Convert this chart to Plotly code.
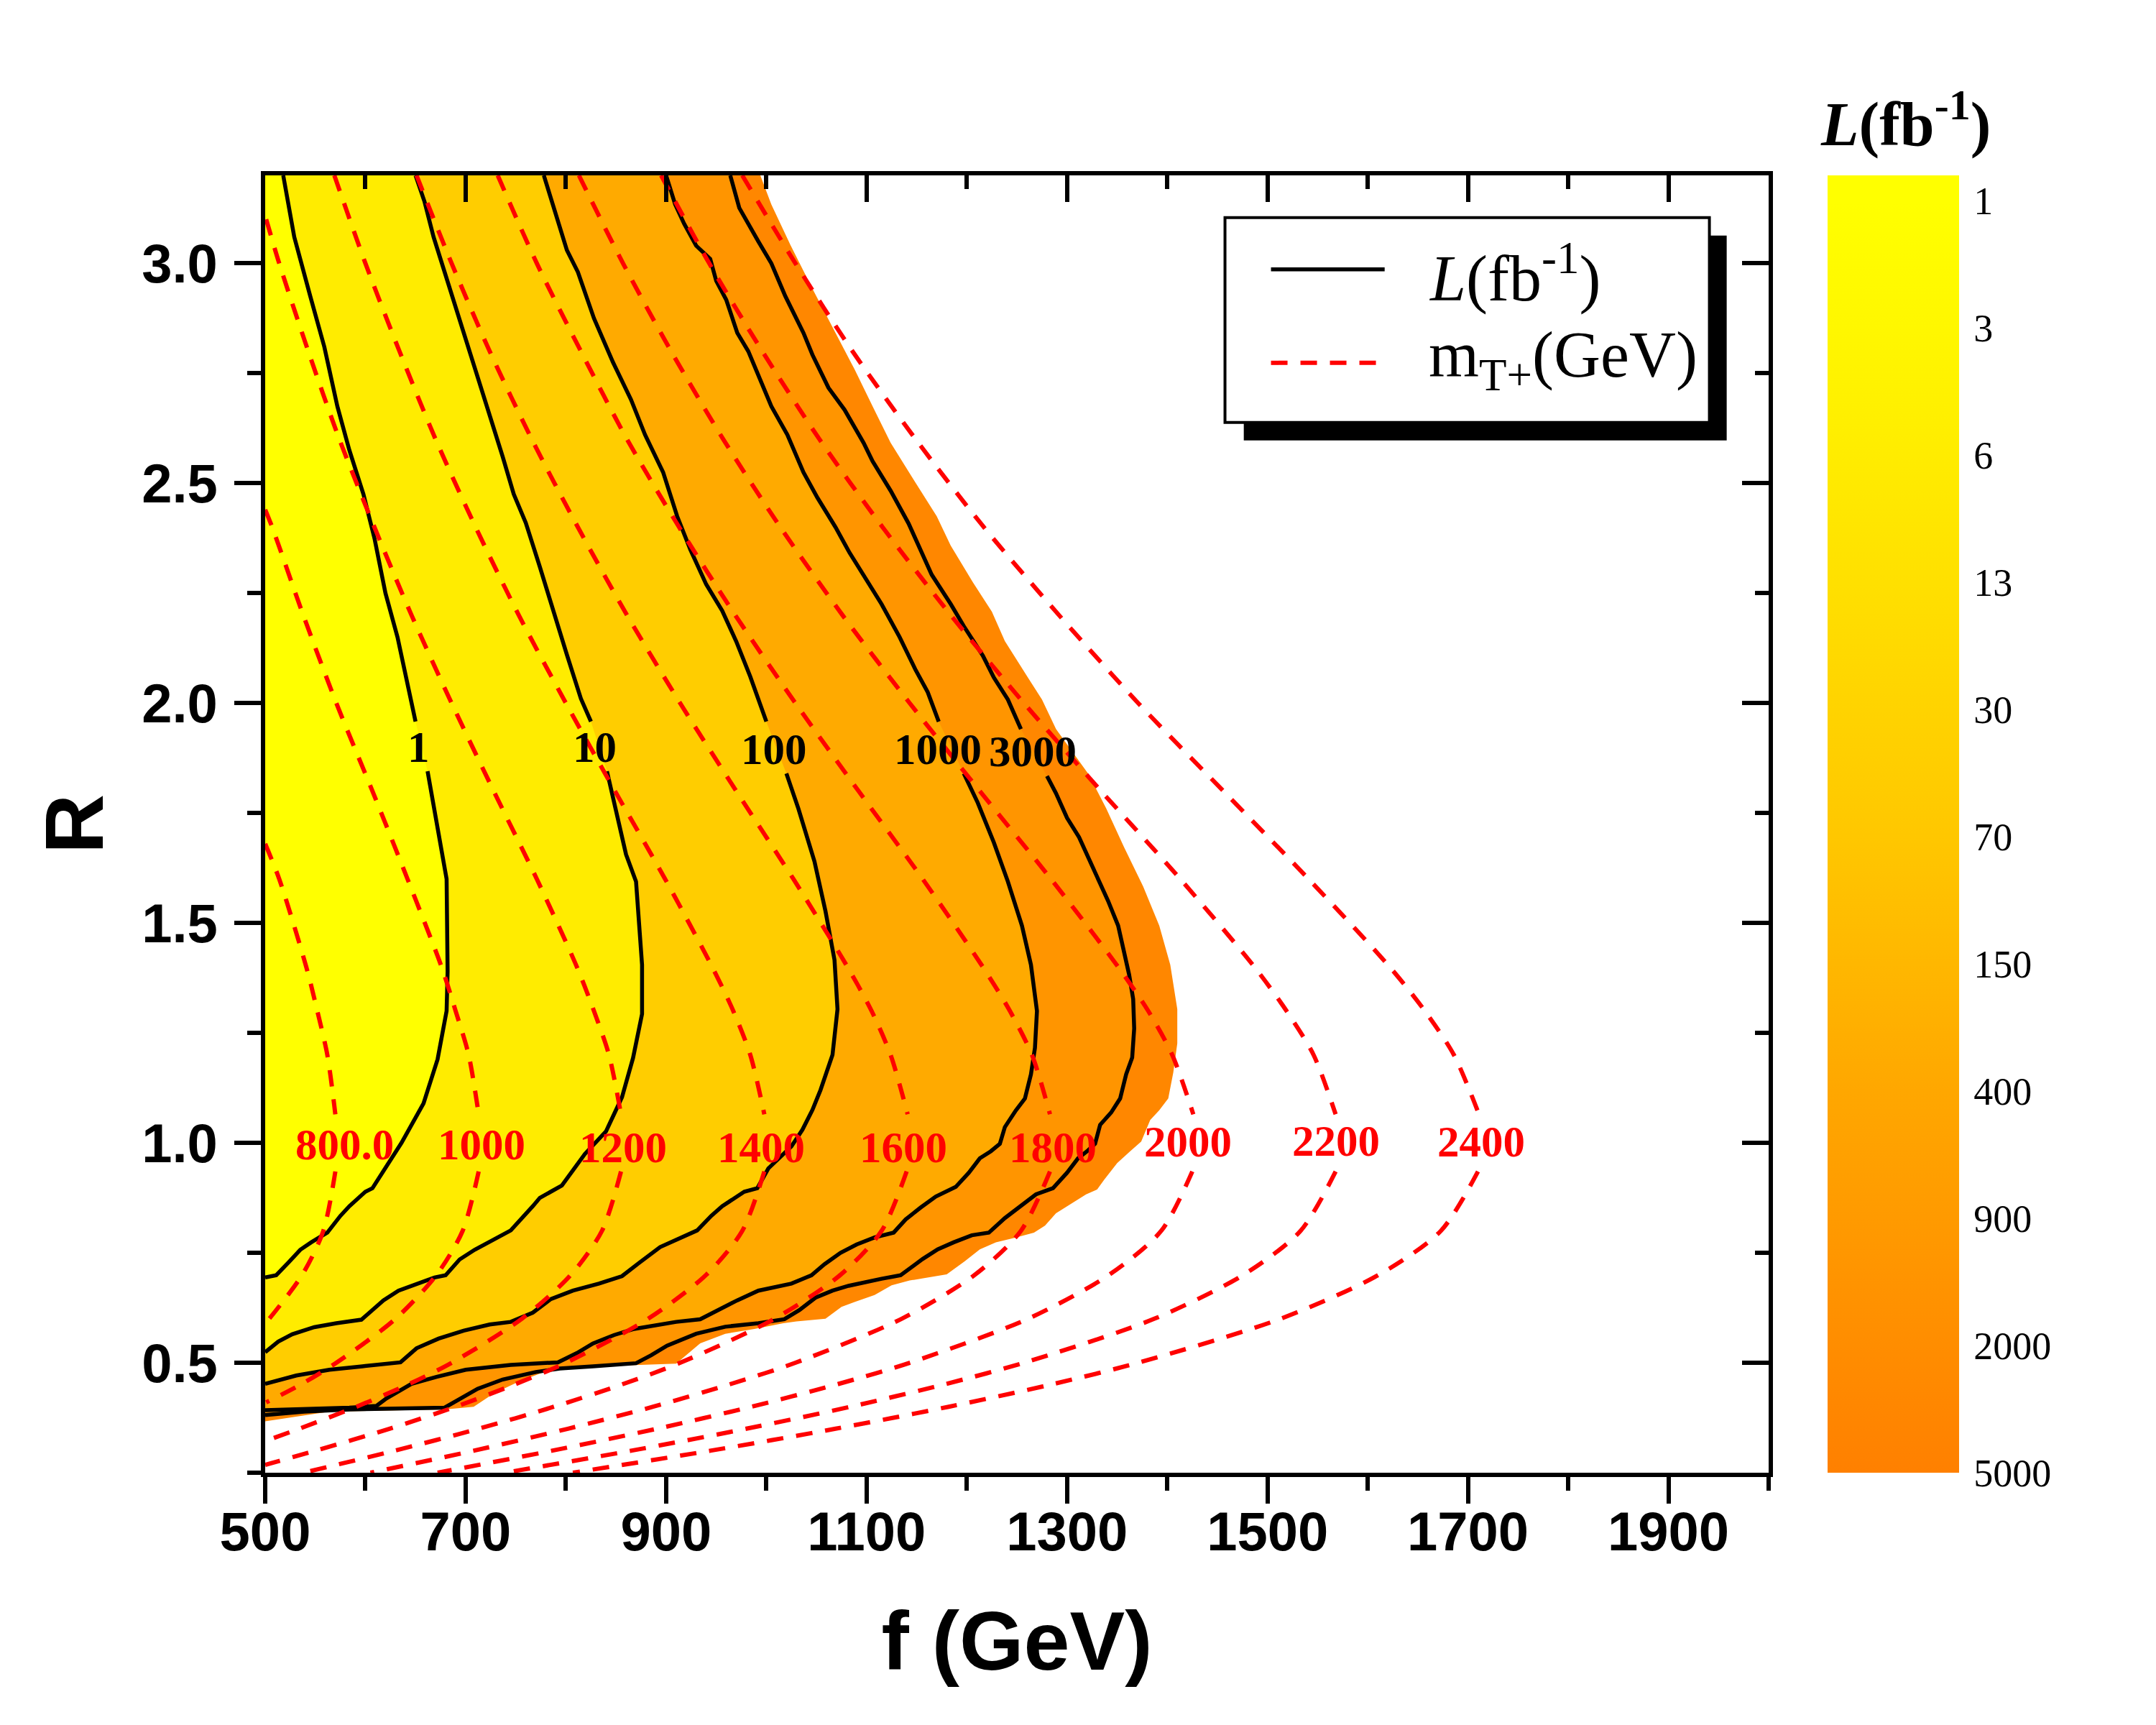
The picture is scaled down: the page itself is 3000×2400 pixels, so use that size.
import plotly.graph_objects as go

# axis limits of the plane (f in GeV, R dimensionless)
F_MIN, F_MAX = 500, 2000
R_MIN, R_MAX = 0.25, 3.2

# luminosity contours L (fb^-1): from the top edge to the left edge
l1_f = [518, 529, 545, 559, 572, 584, 598, 609, 620, 632, 650, 662, 671, 681, 682, 681, 672, 658, 636, 607,
        600, 584, 575, 562, 546, 535, 524, 511, 500]
l1_r = [3.20, 3.06, 2.925, 2.81, 2.675, 2.575, 2.475, 2.375, 2.25, 2.15, 1.958, 1.845, 1.728, 1.60, 1.39, 1.30,
        1.19, 1.09, 1.00, 0.897, 0.889, 0.856, 0.834, 0.796, 0.774, 0.757, 0.730, 0.699, 0.694]

l10_f = [650, 659, 668, 682, 696, 710, 723, 737, 748, 760, 774, 787, 801, 815, 825, 841, 851, 860, 870, 873,
         876, 876, 867, 856, 840, 819, 796, 785, 774, 767, 756, 745, 727, 709, 694, 680, 669, 651, 633, 618,
         607, 596, 571, 549, 527, 513, 500]
l10_r = [3.20, 3.14, 3.06, 2.96, 2.86, 2.76, 2.66, 2.56, 2.475, 2.41, 2.31, 2.21, 2.11, 2.01, 1.958, 1.845, 1.75,
         1.656, 1.594, 1.505, 1.405, 1.293, 1.193, 1.104, 1.026, 0.975, 0.903, 0.889, 0.875, 0.856, 0.829, 0.801,
         0.779, 0.757, 0.735, 0.699, 0.694, 0.680, 0.664, 0.642, 0.620, 0.598, 0.590, 0.581, 0.565, 0.548, 0.524]

l100_f = [778, 790, 801, 812, 828, 847, 865, 879, 897, 911, 924, 940, 956, 970, 984, 1000, 1020, 1032, 1048, 1059,
          1068, 1071, 1066, 1060, 1054, 1046, 1036, 1025, 1002, 991, 978, 956, 945, 931, 912, 894, 873, 856, 833,
          807, 785, 767, 745, 724, 698, 673, 651, 635, 597, 564, 531, 500]
l100_r = [3.20, 3.11, 3.03, 2.98, 2.875, 2.775, 2.69, 2.61, 2.525, 2.425, 2.35, 2.27, 2.21, 2.14, 2.06, 1.958, 1.84,
          1.76, 1.64, 1.527, 1.416, 1.304, 1.20, 1.16, 1.12, 1.075, 1.03, 0.992, 0.942, 0.897, 0.889, 0.856, 0.834,
          0.801, 0.782, 0.763, 0.727, 0.697, 0.680, 0.664, 0.645, 0.614, 0.593, 0.587, 0.573, 0.555, 0.533, 0.501,
          0.492, 0.484, 0.471, 0.452]

l1000_f = [900, 909, 918, 930, 944, 950, 960, 971, 982, 994, 1005, 1021, 1037, 1051, 1069, 1083, 1097, 1115, 1133,
           1149, 1161, 1172, 1197, 1211, 1227, 1241, 1255, 1264, 1270, 1268, 1264, 1258, 1249, 1238, 1233, 1224,
           1213, 1202, 1189, 1169, 1154, 1139, 1127, 1108, 1090, 1074, 1058, 1045, 1025, 992, 971, 951, 934, 910,
           868, 848, 827, 811, 792, 745, 700, 671, 646, 621, 611, 584, 540, 500]
l1000_r = [3.20, 3.134, 3.09, 3.04, 3.01, 2.96, 2.917, 2.842, 2.80, 2.734, 2.675, 2.61, 2.525, 2.467, 2.40, 2.342,
           2.29, 2.225, 2.15, 2.075, 2.025, 1.958, 1.84, 1.773, 1.683, 1.594, 1.494, 1.405, 1.30, 1.216, 1.156,
           1.101, 1.074, 1.036, 0.998, 0.981, 0.965, 0.932, 0.900, 0.878, 0.853, 0.826, 0.796, 0.785, 0.769, 0.750,
           0.724, 0.699, 0.680, 0.664, 0.642, 0.620, 0.599, 0.593, 0.577, 0.563, 0.544, 0.522, 0.501, 0.495, 0.484,
           0.468, 0.452, 0.419, 0.402, 0.398, 0.395, 0.392]

l3000_f = [964, 973, 992, 1005, 1019, 1037, 1046, 1062, 1078, 1097, 1106, 1124, 1142, 1152, 1165, 1184, 1197, 1216,
           1227, 1241, 1254, 1280, 1289, 1300, 1312, 1321, 1330, 1341, 1351, 1357, 1362, 1366, 1367, 1365, 1359,
           1353, 1344, 1333, 1328, 1320, 1311, 1300, 1286, 1269, 1253, 1238, 1222, 1205, 1187, 1171, 1156, 1134,
           1115, 1099, 1082, 1066, 1049, 1033, 1018, 992, 959, 930, 901, 885, 870, 827, 794, 770, 737, 712, 691,
           679, 584, 539, 500]
l3000_r = [3.20, 3.126, 3.05, 3.0, 2.925, 2.842, 2.792, 2.717, 2.667, 2.592, 2.55, 2.483, 2.408, 2.358, 2.292,
           2.225, 2.175, 2.108, 2.058, 2.008, 1.941, 1.834, 1.795, 1.739, 1.695, 1.65, 1.605, 1.55, 1.494, 1.438,
           1.382, 1.327, 1.26, 1.194, 1.156, 1.101, 1.069, 1.041, 0.998, 0.981, 0.965, 0.932, 0.897, 0.883, 0.856,
           0.829, 0.796, 0.790, 0.774, 0.758, 0.736, 0.699, 0.691, 0.684, 0.675, 0.664, 0.648, 0.620, 0.599, 0.590,
           0.582, 0.566, 0.539, 0.517, 0.499, 0.492, 0.487, 0.479, 0.462, 0.441, 0.413, 0.398, 0.394, 0.389, 0.381]

# outer edge of the coloured region (L = 5000)
edge_f = [994, 1005, 1024, 1046, 1069, 1088, 1106, 1124, 1147, 1170, 1184, 1206, 1225, 1238, 1261, 1275, 1289, 1321,
          1339, 1357, 1376, 1392, 1403, 1410, 1410, 1406, 1401, 1392, 1383, 1374, 1363, 1350, 1337, 1330, 1319, 1300,
          1289, 1278, 1267, 1249, 1229, 1213, 1198, 1180, 1165, 1143, 1125, 1108, 1088, 1075, 1059, 1030, 1017, 988,
          959, 934, 910, 807, 778, 753, 728, 708, 679, 564, 500]
edge_r = [3.20, 3.134, 3.042, 2.942, 2.842, 2.759, 2.675, 2.592, 2.508, 2.425, 2.358, 2.275, 2.208, 2.141, 2.058,
          2.008, 1.941, 1.84, 1.761, 1.672, 1.583, 1.494, 1.405, 1.304, 1.226, 1.16, 1.101, 1.074, 1.052, 1.003,
          0.981, 0.954, 0.916, 0.894, 0.883, 0.856, 0.840, 0.812, 0.796, 0.785, 0.774, 0.758, 0.731, 0.701, 0.695,
          0.687, 0.676, 0.654, 0.638, 0.627, 0.600, 0.594, 0.590, 0.577, 0.566, 0.544, 0.498, 0.490, 0.479, 0.457,
          0.430, 0.400, 0.394, 0.389, 0.367]

# m_T+ contours (GeV)
mt800_f = [500, 514, 541, 552, 562, 570, 570, 558, 537, 504, 500]
mt800_r = [1.68, 1.6, 1.4, 1.3, 1.2, 1.065, 0.935, 0.8, 0.7, 0.6, 0.59]
mt1000_f = [500, 507, 538, 571, 607, 642, 676, 690, 703, 713, 713, 697, 671, 630, 571, 535, 501]
mt1000_r = [2.44, 2.4, 2.2, 2.0, 1.8, 1.6, 1.4, 1.3, 1.2, 1.065, 0.935, 0.8, 0.7, 0.6, 0.5, 0.45, 0.41]
mt1200_f = [501, 514, 543, 574, 609, 646, 686, 728, 771, 811, 828, 843, 855, 855, 836, 805, 756, 686, 642, 591,
            534, 500]
mt1200_r = [3.1, 3.0, 2.8, 2.6, 2.4, 2.2, 2.0, 1.8, 1.6, 1.4, 1.3, 1.2, 1.065, 0.935, 0.8, 0.7, 0.6, 0.5, 0.45,
            0.4, 0.35, 0.322]
mt1400_f = [569, 600, 634, 670, 710, 753, 800, 849, 899, 946, 967, 984, 998, 998, 976, 940, 882, 800, 748, 690,
            624, 550, 500]
mt1400_r = [3.2, 3.0, 2.8, 2.6, 2.4, 2.2, 2.0, 1.8, 1.6, 1.4, 1.3, 1.2, 1.065, 0.935, 0.8, 0.7, 0.6, 0.5, 0.45,
            0.4, 0.35, 0.3, 0.268]
mt_r = [3.2, 3.0, 2.8, 2.6, 2.4, 2.2, 2.0, 1.8, 1.6, 1.4, 1.3, 1.2, 1.065, 0.935, 0.8, 0.7, 0.6, 0.5, 0.45,
        0.4, 0.35, 0.3, 0.25]
mt1600_f = [651, 686, 724, 766, 812, 861, 914, 970, 1027, 1081, 1105, 1124, 1141, 1140, 1115, 1074, 1008, 914,
            855, 788, 713, 629, 538]
mt1800_f = [732, 771, 815, 861, 913, 969, 1029, 1092, 1156, 1216, 1243, 1265, 1283, 1283, 1254, 1208, 1135, 1029,
            962, 887, 802, 708, 605]
mt2000_f = [813, 857, 905, 957, 1014, 1076, 1143, 1213, 1284, 1351, 1381, 1405, 1426, 1425, 1394, 1342, 1261, 1143,
            1069, 985, 891, 786, 672]
mt2200_f = [895, 943, 996, 1053, 1116, 1184, 1257, 1334, 1413, 1487, 1519, 1546, 1568, 1568, 1533, 1476, 1387, 1257,
            1176, 1084, 980, 865, 739]
mt2400_f = [976, 1029, 1086, 1149, 1217, 1292, 1371, 1456, 1541, 1622, 1657, 1686, 1711, 1710, 1673, 1611, 1513,
            1371, 1283, 1182, 1069, 944, 807]

# contour labels
l_label_text = ["1", "10", "100", "1000", "3000"]
l_label_f = [653, 829, 1008, 1171, 1266]
l_label_r = [1.90, 1.90, 1.895, 1.895, 1.89]
mt_label_text = ["800.0", "1000", "1200", "1400", "1600", "1800", "2000", "2200", "2400"]
mt_label_f = [579, 716, 857, 995, 1137, 1286, 1421, 1568, 1713]
mt_label_r = [0.996, 0.996, 0.99, 0.99, 0.99, 0.99, 1.002, 1.005, 1.002]

# colour bar
cb_labels = ["1", "3", "6", "13", "30", "70", "150", "400", "900", "2000", "5000"]
cb_colors = ["#FFFF00", "#FFF700", "#FFEC00", "#FFE000", "#FFD300", "#FFC700", "#FFB700", "#FFA700", "#FF9A00",
             "#FF8D00", "#FF8000"]

SERIF = "Liberation Serif, Times New Roman, serif"
SANS = "Liberation Sans, Arial, sans-serif"


def with_gap(fs, rs, cut):
    # leave a hole in the line where its label sits
    xs, ys = [], []
    for i, (f, r) in enumerate(zip(fs, rs)):
        if i and rs[i - 1] > cut >= r:
            xs.append(None)
            ys.append(None)
        xs.append(f)
        ys.append(r)
    return xs, ys


fig = go.Figure()

# coloured bands, painted from the outside in
bands = [(edge_f, edge_r, "#FF8700"), (l3000_f, l3000_r, "#FF9500"), (l1000_f, l1000_r, "#FFAA00"),
         (l100_f, l100_r, "#FFCD00"), (l10_f, l10_r, "#FFEC00"), (l1_f, l1_r, "#FFFF00")]
for f, r, c in bands:
    fig.add_trace(go.Scatter(x=[F_MIN] + f, y=[R_MAX] + r, mode="lines", fill="toself", fillcolor=c,
                             line=dict(width=0), hoverinfo="skip", showlegend=False))

for f, r in [(l1_f, l1_r), (l10_f, l10_r), (l100_f, l100_r), (l1000_f, l1000_r), (l3000_f, l3000_r)]:
    xs, ys = with_gap(f, r, 1.9)
    fig.add_trace(go.Scatter(x=xs, y=ys, mode="lines", line=dict(color="black", width=5.5),
                             hoverinfo="skip", showlegend=False))

mt_curves = [(mt800_f, mt800_r), (mt1000_f, mt1000_r), (mt1200_f, mt1200_r), (mt1400_f, mt1400_r),
             (mt1600_f, mt_r), (mt1800_f, mt_r), (mt2000_f, mt_r), (mt2200_f, mt_r), (mt2400_f, mt_r)]
for f, r in mt_curves:
    xs, ys = with_gap(f, r, 1.0)
    fig.add_trace(go.Scatter(x=xs, y=ys, mode="lines",
                             line=dict(color="#FF0000", width=6, dash="23px,18px", shape="spline",
                                       smoothing=0.8),
                             hoverinfo="skip", showlegend=False))

# colour bar carrier
n = len(cb_labels) - 1
top = n + 0.2
scale = [[0, cb_colors[-1]]]
for i in range(n, -1, -1):
    scale.append([(n - i) / top, cb_colors[i]])
scale.append([1, cb_colors[0]])
fig.add_trace(go.Scatter(
    x=[None], y=[None], mode="markers", showlegend=False, hoverinfo="skip",
    marker=dict(color=[0], cmin=0, cmax=top, colorscale=scale, showscale=True,
                colorbar=dict(x=1.0392, xanchor="left", xpad=0, y=0.5, yanchor="middle", ypad=0,
                              len=1, lenmode="fraction", thickness=183, thicknessmode="pixels",
                              outlinewidth=0, tickvals=list(range(n, -1, -1)), ticktext=cb_labels,
                              ticks="outside", ticklen=10, tickcolor="rgba(0,0,0,0)",
                              tickfont=dict(family=SERIF, size=54, color="black")))))

# carrier for the top / right tick axes
fig.add_trace(go.Scatter(x=[None], y=[None], xaxis="x2", yaxis="y2", showlegend=False, hoverinfo="skip"))

annotations = []
for t, f, r in zip(l_label_text, l_label_f, l_label_r):
    annotations.append(dict(x=f, y=r, xref="x", yref="y", text="<b>%s</b>" % t, showarrow=False,
                            font=dict(family=SERIF, size=61, color="black")))
for t, f, r in zip(mt_label_text, mt_label_f, mt_label_r):
    annotations.append(dict(x=f, y=r, xref="x", yref="y", text="<b>%s</b>" % t, showarrow=False,
                            font=dict(family=SERIF, size=61, color="#FF0000")))

# colour bar title
annotations.append(dict(x=1.0913, y=1.043, xref="paper", yref="paper", showarrow=False,
                        text="<b><i>L</i>(fb<sup>-1</sup>)</b>", xanchor="center", yanchor="middle",
                        font=dict(family=SERIF, size=86, color="black")))

# hand made legend with drop shadow
annotations.append(dict(x=0.7728, y=0.924, xref="paper", yref="paper", showarrow=False, xanchor="left",
                        yanchor="middle", text="<i>L</i>(fb<sup>-1</sup>)",
                        font=dict(family=SERIF, size=90, color="black")))
annotations.append(dict(x=0.7728, y=0.8577, xref="paper", yref="paper", showarrow=False, xanchor="left",
                        yanchor="middle", text="m<sub>T+</sub>(GeV)",
                        font=dict(family=SERIF, size=90, color="black")))
shapes = [
    dict(type="rect", xref="paper", yref="paper", x0=0.6509, x1=0.9721, y0=0.7957, y1=0.9536,
         fillcolor="black", line=dict(width=0), layer="above"),
    dict(type="rect", xref="paper", yref="paper", x0=0.6384, x1=0.9606, y0=0.8095, y1=0.9674,
         fillcolor="white", line=dict(color="black", width=4), layer="above"),
    dict(type="line", xref="paper", yref="paper", x0=0.669, x1=0.7446, y0=0.9275, y1=0.9275,
         line=dict(color="black", width=5.5), layer="above"),
    dict(type="line", xref="paper", yref="paper", x0=0.669, x1=0.7412, y0=0.8555, y1=0.8555,
         line=dict(color="#FF0000", width=6, dash="23px,18px"), layer="above"),
]

tickfont = dict(family=SANS, size=76, color="black", weight="bold")
fig.update_layout(
    width=3000, height=2400,
    margin=dict(l=361, r=547, t=236, b=359),
    plot_bgcolor="white", paper_bgcolor="white",
    xaxis=dict(range=[F_MIN, F_MAX], tick0=500, dtick=200, ticks="outside", ticklen=37, tickwidth=6,
               tickcolor="black", linewidth=6, linecolor="black", mirror=True, showgrid=False, zeroline=False,
               tickfont=tickfont, ticklabelstandoff=-26,
               minor=dict(dtick=100, tick0=500, ticks="outside", ticklen=19, tickwidth=6, tickcolor="black"),
               title=dict(text="f (GeV)", standoff=72,
                          font=dict(family=SANS, size=115, color="black", weight="bold"))),
    yaxis=dict(range=[R_MIN, R_MAX], tick0=0.5, dtick=0.5, tickformat=".1f", ticks="outside", ticklen=37,
               tickwidth=6, tickcolor="black", linewidth=6, linecolor="black", mirror=True, showgrid=False,
               zeroline=False, tickfont=tickfont, ticklabelstandoff=8,
               minor=dict(dtick=0.25, tick0=0.25, ticks="outside", ticklen=19, tickwidth=6, tickcolor="black"),
               title=dict(text="R", standoff=17,
                          font=dict(family=SANS, size=115, color="black", weight="bold"))),
    xaxis2=dict(range=[F_MIN, F_MAX], overlaying="x", side="top", anchor="y", tick0=500, dtick=200,
                ticks="inside", ticklen=37, tickwidth=6, tickcolor="black", showticklabels=False,
                showline=False, showgrid=False, zeroline=False,
                minor=dict(dtick=100, tick0=500, ticks="inside", ticklen=19, tickwidth=6, tickcolor="black")),
    yaxis2=dict(range=[R_MIN, R_MAX], overlaying="y", side="right", anchor="x", tick0=0.5, dtick=0.5,
                ticks="inside", ticklen=37, tickwidth=6, tickcolor="black", showticklabels=False,
                showline=False, showgrid=False, zeroline=False,
                minor=dict(dtick=0.25, tick0=0.25, ticks="inside", ticklen=19, tickwidth=6, tickcolor="black")),
    annotations=annotations,
    shapes=shapes,
)

fig.write_html("out.html")
